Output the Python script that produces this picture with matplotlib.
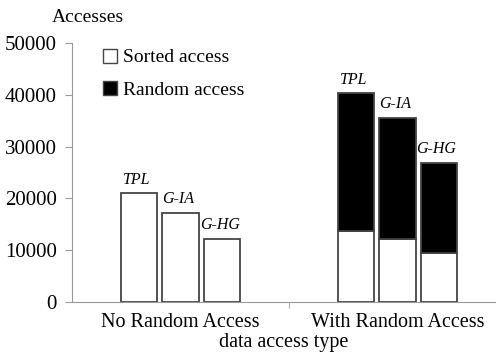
import matplotlib
matplotlib.use("Agg")
import matplotlib.pyplot as plt
from matplotlib.patches import Patch

plt.rcParams['font.family'] = ['Liberation Serif', 'DejaVu Serif']

groups = ['No Random Access', 'With Random Access']
methods = ['TPL', 'G-IA', 'G-HG']
# no random access: only sorted accesses
no_random_sorted = [21000, 17200, 12200]
# with random access: sorted + random parts
with_random_sorted = [13800, 12200, 9400]
with_random_random = [26500, 23300, 17500]

fig = plt.figure(figsize=(4.96, 3.54), dpi=100)
ax = fig.add_axes([72/496, 52/354, 424/496, 259/354])

offsets = [-0.19, 0.0, 0.19]
w = 0.167
edge = '#444444'

for i, m in enumerate(methods):
    x0 = 0 + offsets[i]
    ax.bar(x0, no_random_sorted[i], w, color='white', edgecolor=edge, linewidth=1.3)
    ax.text(x0 - 0.01, no_random_sorted[i] + 1100, m, ha='center', va='bottom',
            fontsize=11.5, style='italic')
    x1 = 1 + offsets[i]
    ax.bar(x1, with_random_sorted[i], w, color='white', edgecolor=edge, linewidth=1.3)
    ax.bar(x1, with_random_random[i], w, bottom=with_random_sorted[i], color='black',
           edgecolor=edge, linewidth=1.3)
    top = with_random_sorted[i] + with_random_random[i]
    ax.text(x1 - 0.01, top + 1100, m, ha='center', va='bottom', fontsize=11.5, style='italic')

ax.set_ylim(0, 50000)
ax.set_xlim(-0.5, 1.454)
ax.set_yticks([0, 10000, 20000, 30000, 40000, 50000])
ax.set_xticks([0, 1])
ax.set_xticklabels(groups)
ax.set_xticks([0.5], minor=True)
ax.tick_params(axis='x', which='major', length=0, labelsize=14.5, pad=8)
ax.tick_params(axis='x', which='minor', length=4, color='#999999', direction='out')
ax.tick_params(axis='y', length=5, color='#999999', labelsize=15, pad=6)

for s in ['top', 'right']:
    ax.spines[s].set_visible(False)
ax.spines['left'].set_color('#999999')
ax.spines['bottom'].set_color('#999999')

fig.text(88/496, 1 - 18/354, 'Accesses', ha='center', va='center', fontsize=14)
ax.set_xlabel('data access type', fontsize=14.5, labelpad=1)

handles = [Patch(facecolor='white', edgecolor=edge, label='Sorted access'),
           Patch(facecolor='black', edgecolor=edge, label='Random access')]
ax.legend(handles=handles, loc='upper left', bbox_to_anchor=(31/424, 0.978), frameon=False,
          fontsize=14, handlelength=0.72, handleheight=0.72, handletextpad=0.3,
          labelspacing=0.76, borderpad=0, borderaxespad=0)

fig.savefig('out.png', dpi=100)
